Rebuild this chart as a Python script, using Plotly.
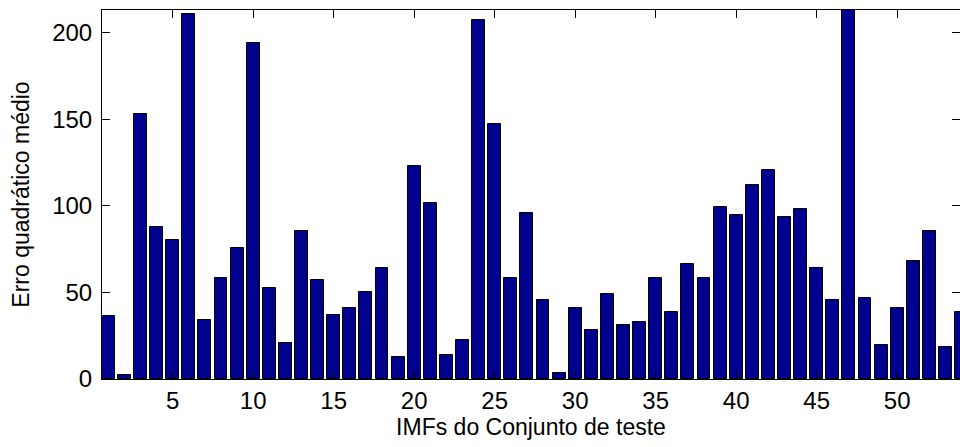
import plotly.graph_objects as go

# Mean squared error for each IMF of the test set
imf_index = list(range(1, 55))
mse_values = [
    36.5, 2.3, 152.8, 87.7, 80.0, 210.9, 34.2, 58.2, 75.4, 193.8,
    52.5, 20.8, 85.7, 56.9, 36.7, 40.9, 50.2, 64.0, 12.7, 123.2,
    101.5, 13.6, 22.7, 207.2, 147.1, 58.2, 95.9, 45.6, 3.5, 40.9,
    28.5, 49.0, 30.9, 33.1, 58.2, 38.8, 66.1, 58.2, 99.2, 94.6,
    111.7, 120.7, 93.4, 98.0, 64.0, 45.6, 240.0, 46.7, 19.4, 40.9,
    68.2, 85.7, 18.3, 38.8,
]
x_ticks = [5, 10, 15, 20, 25, 30, 35, 40, 45, 50]
y_ticks = [0, 50, 100, 150, 200]

font_family = "Liberation Sans, Arial, sans-serif"

fig = go.Figure(
    go.Bar(
        x=imf_index,
        y=mse_values,
        width=0.8,
        marker=dict(color="#00008F", line=dict(color="black", width=1)),
    )
)

axis_common = dict(
    showline=True,
    linecolor="black",
    linewidth=1,
    mirror="allticks",
    ticks="inside",
    ticklen=8,
    tickcolor="black",
    showgrid=False,
    zeroline=False,
    tickfont=dict(family=font_family, size=24, color="black"),
)

fig.update_xaxes(
    range=[0.61, 53.9],
    tickmode="array",
    tickvals=x_ticks,
    title=dict(text="IMFs do Conjunto de teste",
               font=dict(family=font_family, size=23, color="black"),
               standoff=6),
    **axis_common,
)
fig.update_yaxes(
    range=[0, 213],
    tickmode="array",
    tickvals=y_ticks,
    ticklabelstandoff=4,
    title=dict(text="Erro quadrático médio",
               font=dict(family=font_family, size=23, color="black"),
               standoff=16),
    **axis_common,
)

fig.update_layout(
    width=960,
    height=447,
    margin=dict(l=102, r=0, t=10, b=68),
    paper_bgcolor="white",
    plot_bgcolor="white",
    showlegend=False,
    bargap=0,
)

fig.write_html("out.html")
